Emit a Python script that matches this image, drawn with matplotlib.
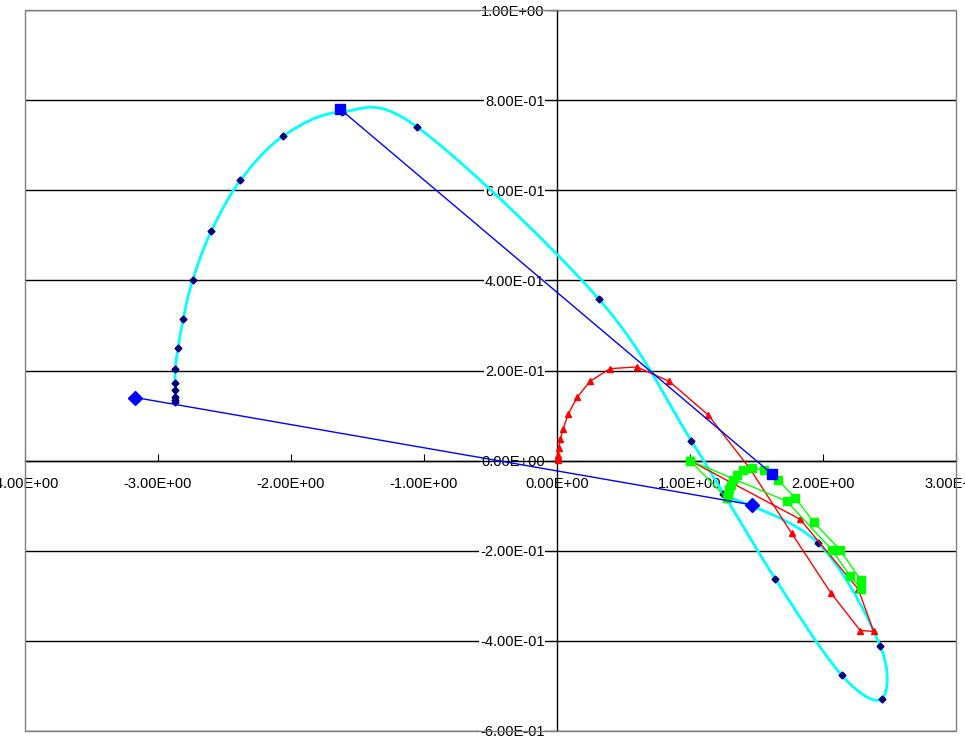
import matplotlib
matplotlib.use("Agg")
import matplotlib.pyplot as plt
import numpy as np

cyan_x = [-2.87, -2.87, -2.87, -2.87, -2.87, -2.87, -2.85, -2.81, -2.74, -2.60, -2.38, -2.06, -1.62, -1.05, 0.316, 1.01, 1.64, 2.14, 2.44, 2.43, 1.96, 1.25]
cyan_y = [0.131, 0.135, 0.142, 0.156, 0.173, 0.204, 0.249, 0.315, 0.40, 0.509, 0.622, 0.72, 0.774, 0.74, 0.358, 0.044, -0.262, -0.476, -0.529, -0.411, -0.182, -0.075]

red_x = [0.01, 0.01, 0.01, 0.015, 0.023, 0.047, 0.085, 0.153, 0.248, 0.398, 0.599, 0.844, 1.138, 1.451, 1.764, 2.06, 2.28, 2.38, 2.265, 1.827, 1.0]
red_y = [0.002, 0.008, 0.013, 0.028, 0.047, 0.071, 0.104, 0.141, 0.176, 0.204, 0.208, 0.176, 0.101, -0.018, -0.161, -0.294, -0.377, -0.379, -0.285, -0.130, 0.0]

green_x = [1.0, 1.276, 1.283, 1.293, 1.306, 1.321, 1.351, 1.396, 1.464, 1.556, 1.659, 1.789, 1.932, 2.128, 2.286, 2.286, 2.203, 2.07, 1.727, 1.0]
green_y = [0.0, -0.083, -0.076, -0.064, -0.053, -0.042, -0.033, -0.021, -0.017, -0.021, -0.042, -0.082, -0.137, -0.198, -0.266, -0.284, -0.256, -0.199, -0.090, 0.0]

blue_d_x = [-3.17, 1.464]
blue_d_y = [0.14, -0.098]
blue_s_x = [-1.63, 1.614]
blue_s_y = [0.78, -0.029]

xticks = [-4, -3, -2, -1, 0, 1, 2, 3]
yticks = [-0.6, -0.4, -0.2, 0.0, 0.2, 0.4, 0.6, 0.8, 1.0]

def smooth(x, y, n=20):
    x = np.asarray(x, float); y = np.asarray(y, float)
    px = np.concatenate([[x[0]], x, [x[-1]]]); py = np.concatenate([[y[0]], y, [y[-1]]])
    ox, oy = [], []
    t = np.linspace(0, 1, n, endpoint=False)
    for i in range(1, len(px) - 2):
        p0, p1, p2, p3 = [np.array([px[j], py[j]]) for j in (i-1, i, i+1, i+2)]
        for tt in t:
            pt = 0.5*((2*p1) + (-p0+p2)*tt + (2*p0-5*p1+4*p2-p3)*tt**2 + (-p0+3*p1-3*p2+p3)*tt**3)
            ox.append(pt[0]); oy.append(pt[1])
    ox.append(x[-1]); oy.append(y[-1])
    return ox, oy

plt.rcParams['font.family'] = ['Liberation Sans', 'DejaVu Sans']
fig = plt.figure(figsize=(9.65, 7.46), dpi=100)
ax = fig.add_axes([25/965, 15/746, 931/965, 721/746])
ax.set_xlim(-4, 3); ax.set_ylim(-0.6, 1.0)
for yv in yticks:
    ax.axhline(yv, color='black', lw=1, zorder=1)

sx, sy = smooth(cyan_x, cyan_y)
ax.plot(sx, sy, color='#00FFFF', lw=2, zorder=3)
ax.plot(cyan_x, cyan_y, ls='none', marker='D', ms=3.5, color='#000080', zorder=4)
ax.plot(red_x, red_y, color='#FF0000', lw=1, marker='^', ms=4.5, zorder=5)
ax.plot(green_x, green_y, color='#00FF00', lw=1, marker='s', ms=5.5, zorder=5)
ax.plot(blue_d_x, blue_d_y, color='#0000FF', lw=1, marker='D', ms=7, zorder=6)
ax.plot(blue_s_x, blue_s_y, color='#0000FF', lw=1, marker='s', ms=7, zorder=6)

ax.spines['left'].set_position(('data', 0))
ax.spines['bottom'].set_position(('data', 0))
ax.spines['right'].set_visible(False); ax.spines['top'].set_visible(False)
for s in ('left', 'bottom'):
    ax.spines[s].set_color('black'); ax.spines[s].set_linewidth(1)
ax.set_xticks(xticks); ax.set_yticks(yticks)
ax.set_xticklabels(['%.2E' % v for v in xticks], fontsize=10.5)
ax.set_yticklabels(['%.2E' % v for v in yticks], fontsize=10.5)
ax.tick_params(axis='x', direction='in', length=5, pad=12)
ax.tick_params(axis='y', direction='out', length=5, pad=4)
for lab in ax.get_xticklabels() + ax.get_yticklabels():
    lab.set_bbox(dict(facecolor='white', edgecolor='none', pad=0.5))
    lab.set_zorder(12)
rect = plt.Rectangle((0, 0), 1, 1, transform=ax.transAxes, fill=False, ec='#808080', lw=1, zorder=10, clip_on=False)
ax.add_patch(rect)
fig.savefig('out.png', dpi=100)
